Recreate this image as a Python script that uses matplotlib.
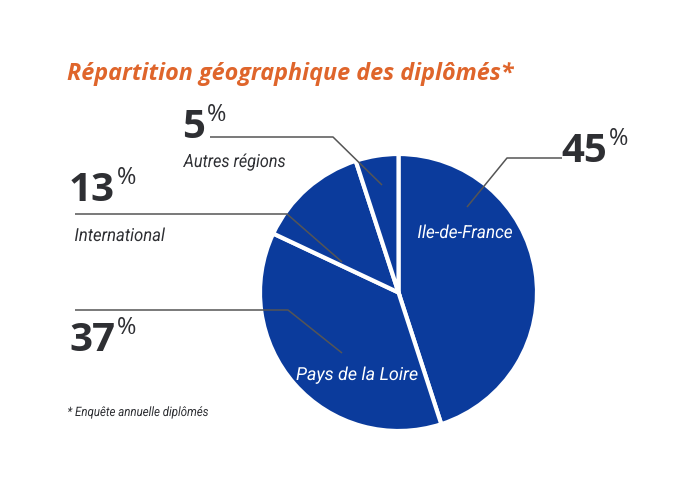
import matplotlib
matplotlib.use('Agg')
import matplotlib.pyplot as plt
from matplotlib.font_manager import FontProperties
from matplotlib.textpath import TextPath
from matplotlib.patches import PathPatch
from matplotlib.transforms import Affine2D

regions = ['Ile-de-France', 'Pays de la Loire', 'International', 'Autres régions']
shares = [45, 37, 13, 5]
title = 'Répartition géographique des diplômés*'
note = '* Enquête annuelle diplômés'

blue = '#0b3b9c'
orange = '#df652b'
dark = '#2e2f33'
grey = '#555555'

W, H = 699, 490
fig = plt.figure(figsize=(W / 100, H / 100), dpi=100)
ax = fig.add_axes([0, 0, 1, 1])


def Y(y):
    # ligne pixel de l'image -> y des données
    return H - y


ax.pie(shares, center=(398.5, Y(292.5)), radius=138.5, startangle=90,
       counterclock=False, colors=[blue] * 4,
       wedgeprops=dict(edgecolor='white', linewidth=3))
ax.set_xlim(0, W)
ax.set_ylim(0, H)
ax.set_aspect('equal')
ax.axis('off')

cond = FontProperties(family='Roboto', style='italic')


def narrow_text(x, y, s, size_px, width, color, ha='left'):
    # texte condensé : on écrase la police horizontalement
    tp = TextPath((0, 0), s, size=size_px, prop=cond)
    ext = tp.get_extents()
    sx = width / ext.width
    x0 = x - width / 2 if ha == 'center' else x
    tr = Affine2D().translate(-ext.x0, 0).scale(sx, 1).translate(x0, Y(y))
    ax.add_patch(PathPatch(tr.transform_path(tp), fc=color, ec='none', lw=0))


# titre
t = ax.text(67, Y(80), title, color=orange, fontsize=15, fontstyle='italic',
            fontweight='bold', family='Open Sans', ha='left', va='baseline')
fig.canvas.draw()
w = t.get_window_extent().width
t.set_fontsize(15 * 448 / w)

# traits de rappel
leaders = [
    [(562, 158), (507, 158), (467, 207)],
    [(75, 310), (288, 310), (342, 353)],
    [(75, 214), (287, 214), (342, 262)],
    [(210, 137), (333, 137), (382, 185)],
]
for pts in leaders:
    ax.plot([p[0] for p in pts], [Y(p[1]) for p in pts], color=grey, lw=1.1,
            solid_capstyle='butt')

# pourcentages
pct_pos = [(561, 162), (69, 351), (69, 201), (182, 138)]
for v, (x, y) in zip(shares, pct_pos):
    t = ax.text(x, Y(y), str(v), color=dark, fontsize=29, fontweight='bold',
                family='Open Sans', ha='left', va='baseline')
    fig.canvas.draw()
    bb = t.get_window_extent()
    ax.text(bb.x1 + 2, Y(y) + 35, '%', color=dark, fontsize=17,
            family='Open Sans', ha='left', va='top')

# noms de régions
narrow_text(465, 238, regions[0], 18, 94, 'white', ha='center')
narrow_text(357, 380, regions[1], 18, 121, 'white', ha='center')
narrow_text(75, 241, regions[2], 18, 90, dark)
narrow_text(183, 167, regions[3], 18, 102, dark)
narrow_text(68, 416, note, 13, 140, dark)

fig.savefig('out.png', dpi=100)
